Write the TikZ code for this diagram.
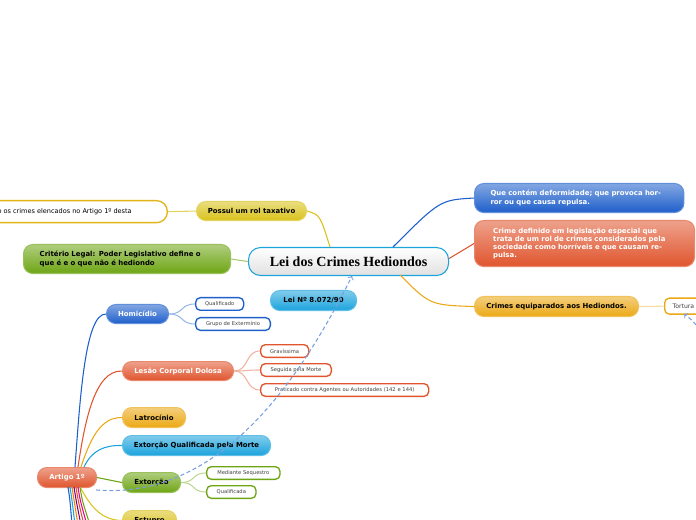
\documentclass[tikz,border=0pt]{standalone}
\usepackage{fontspec}
\setmainfont{DejaVu Sans}
\newfontfamily\serifb{Liberation Serif}
\begin{document}
\begin{tikzpicture}[x=0.75pt,y=-0.75pt,
 tb/.style={font=\fontsize{5.2}{6.2}\selectfont\bfseries, rounded corners=7pt, inner sep=0pt, minimum height=14.5pt, align=center, anchor=north west},
 lf/.style={font=\fontsize{3.9}{4.7}\selectfont, draw=#1, fill=white, line width=1pt, rounded corners=3.5pt, inner sep=0pt, minimum height=9.5pt, anchor=north west, text=black!75},
 cn/.style={line width=0.8pt, draw=#1}]
\useasboundingbox (0,0) rectangle (696,520);
\clip (0,0) rectangle (696,520);
\definecolor{cblue}{HTML}{1E5FCB}
\definecolor{cred}{HTML}{E0552E}
\definecolor{cyel}{HTML}{D9C21A}
\definecolor{corg}{HTML}{EBA814}
\definecolor{cgrn}{HTML}{6EA514}
\definecolor{ccyan}{HTML}{1BA3DC}
\tikzset{box/.style n args={4}{tb, draw=#1!70!white, line width=0.8pt, top color=#1!55!white, bottom color=#1, minimum width=#2*0.75pt, minimum height=#3*0.75pt, text=#4}}
% central
\node[anchor=north west, draw=ccyan, line width=0.8pt, rounded corners=9pt, top color=white, bottom color=black!12, minimum width=150pt, minimum height=21pt, font=\serifb\fontsize{10.5}{12}\selectfont\bfseries] (c) at (248,247) {Lei dos Crimes Hediondos};
% left side
\node[box={cyel}{110}{19}{black}] (pos) at (196,201) {Possul um rol taxativo};
\node[anchor=north east, draw=cyel!80!orange, line width=1pt, rounded corners=8pt, fill=white, minimum height=16.5pt, minimum width=200pt, font=\fontsize{4.9}{5.8}\selectfont, align=right, inner xsep=12pt] (def) at (168,200) {Considera hediondo os crimes elencados no Artigo 1º desta};
\node[box={cgrn}{207}{29}{black}, align=left, text width=131pt, inner xsep=11pt] (crit) at (23,244) {Critério Legal: Poder Legislativo define o que é e o que não é hediondo};
\node[box={ccyan}{86}{20}{black}] (lei) at (270,290) {Lei Nº 8.072/90};
% right side
\node[box={cblue}{207}{29}{white}, align=left, text width=133pt, inner xsep=12pt] (que) at (474,183) {Que contém deformidade; que provoca horror ou que causa repulsa.};
\node[box={cred}{214}{46}{white}, align=left, text width=137pt, inner xsep=14pt] (crime) at (474,220) {Crime definido em legislação especial que trata de um rol de crimes considerados pela sociedade como horríveis e que causam repulsa.};
\node[box={corg}{164}{20}{black}] (equi) at (474,296) {Crimes equiparados aos Hediondos.};
\node[lf=corg, minimum width=40pt, text width=34pt, align=left, inner xsep=6pt, font=\fontsize{4.6}{5.5}\selectfont, minimum height=12pt] (tort) at (664,297.5) {Tortura};
% artigo
\node[box={cred}{59}{20}{white}] (art) at (37,467) {Artigo 1º};
\node[box={cblue}{62}{19}{white}] (hom) at (106,304) {Homicídio};
\node[box={cred}{111}{19}{white}] (les) at (122,361) {Lesão Corporal Dolosa};
\node[box={corg}{63}{20}{black}] (lat) at (122,407) {Latrocínio};
\node[box={ccyan}{148}{20}{black}] (eqm) at (122,435) {Extorção Qualificada pela Morte};
\node[box={cgrn}{58}{20}{black}] (ext) at (122,472) {Extorção};
\node[box={cyel}{54}{20}{black}] (est) at (122,510) {Estupro};
% leaves
\node[lf=cblue, minimum width=36pt, text width=30pt, align=center] (q1) at (195,297) {Qualificado};
\node[lf=cblue, minimum width=56pt, text width=50pt, align=center] (q2) at (195,317) {Grupo de Extermínio};
\node[lf=cred, minimum width=36pt, text width=30pt, align=center] (l1) at (260,344) {Gravíssima};
\node[lf=cred, minimum width=53pt, text width=47pt, align=center] (l2) at (260,363) {Seguida pela Morte};
\node[lf=cred, minimum width=126pt, text width=120pt, align=center] (l3) at (260,383) {Praticado contra Agentes ou Autoridades (142 e 144)};
\node[lf=cgrn, minimum width=55pt, text width=49pt, align=center] (e1) at (206,466) {Mediante Sequestro};
\node[lf=cgrn, minimum width=37pt, text width=31pt, align=center] (e2) at (206,485) {Qualificada};
% connectors
\draw[cn=cyel] (330,247) .. controls (320,215) .. (pos.east);
\draw[cn=cyel!70!white] (pos.west) -- (def.east);
\draw[cn=cgrn!60!white] (crit.east) -- (c.west);
\draw[cn=cblue] (393,247) .. controls (440,200) .. (que.west);
\draw[cn=cred] (c.east) ++(0,-3) -- (crime.west);
\draw[cn=corg] (400,275) .. controls (430,305) .. (equi.west);
\draw[cn=corg!40!white] (equi.east) -- (tort.west);
\draw[densely dashed, cn=cblue!60!white, ->] (96,490) .. controls (220,500) and (300,380) .. (352,276);
\draw[densely dashed, cn=cblue!60!white, ->] (696,325) .. controls (692,320) .. (684,314);
\draw[cn=cblue] (75,467) .. controls (80,400) and (85,313) .. (hom.west);
\draw[cn=cred] (78,467) .. controls (85,420) and (95,370) .. (les.west);
\draw[cn=corg] (81,467) .. controls (90,440) and (100,417) .. (lat.west);
\draw[cn=ccyan] (84,467) .. controls (92,450) and (105,445) .. (eqm.west);
\draw[cn=cgrn] (art.east) -- (ext.west);
\draw[cn=cyel] (80,487) .. controls (90,505) and (100,520) .. (est.west);
\foreach \dx/\col in {0/cblue,2/ccyan,4/orange,6/violet,8/cred,10/magenta,12/cgrn} \draw[cn=\col] (68+\dx,487) .. controls (70+\dx,500) .. (72+\dx*1.5,525);
\foreach \a/\b/\col in {hom/q1/cblue,hom/q2/cblue,les/l1/cred,les/l2/cred,les/l3/cred,ext/e1/cgrn,ext/e2/cgrn} \draw[cn=\col!45!white] (\a.east) .. controls +(15,0) and +(-15,0) .. (\b.west);
\end{tikzpicture}
\end{document}
